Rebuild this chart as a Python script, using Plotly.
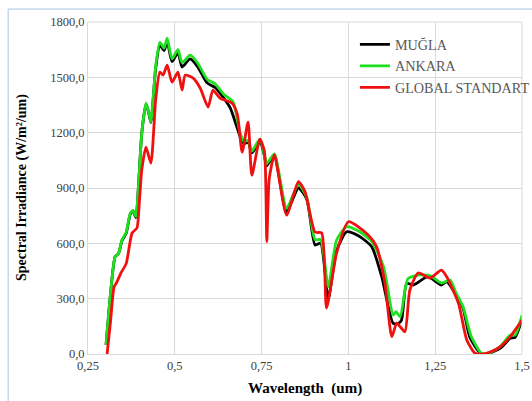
import plotly.graph_objects as go

# ---- data ----
mugla_x = [0.302, 0.315, 0.328, 0.338, 0.348, 0.360, 0.372, 0.380, 0.388, 0.395, 0.405, 0.417, 0.424, 0.431,
           0.445, 0.457, 0.469, 0.478, 0.492, 0.509, 0.521, 0.544, 0.565, 0.593, 0.616, 0.640, 0.660, 0.688,
           0.700, 0.711, 0.722, 0.745, 0.758, 0.764, 0.772, 0.787, 0.822, 0.856, 0.880, 0.904, 0.920, 0.942,
           0.966, 0.995, 1.030, 1.067, 1.096, 1.129, 1.144, 1.153, 1.168, 1.187, 1.229, 1.268, 1.283, 1.310,
           1.330, 1.350, 1.380, 1.400, 1.440, 1.466, 1.480, 1.500]
mugla_y = [50, 330, 526, 545, 615, 655, 760, 775, 740, 900, 1200, 1355, 1315, 1255,
           1550, 1675, 1645, 1695, 1585, 1635, 1556, 1600, 1560, 1470, 1445, 1390, 1333, 1180,
           1140, 1150, 1090, 1150, 1075, 1020, 1040, 1070, 770, 900, 840, 591, 601, 300,
           560, 663, 640, 582, 419, 166, 166, 184, 383, 374, 419, 374, 392, 320,
           250, 90, 5, 0, 35, 85, 90, 190]

ankara_x = [0.302, 0.315, 0.328, 0.338, 0.348, 0.360, 0.372, 0.380, 0.388, 0.395, 0.405, 0.417, 0.424, 0.431,
            0.445, 0.457, 0.469, 0.478, 0.492, 0.509, 0.521, 0.544, 0.565, 0.593, 0.616, 0.640, 0.668, 0.688,
            0.700, 0.711, 0.722, 0.745, 0.758, 0.764, 0.772, 0.787, 0.822, 0.856, 0.880, 0.904, 0.920, 0.942,
            0.966, 0.995, 1.030, 1.067, 1.101, 1.129, 1.137, 1.149, 1.163, 1.172, 1.201, 1.235, 1.268, 1.293,
            1.310, 1.330, 1.354, 1.383, 1.400, 1.437, 1.466, 1.480, 1.500]
ankara_y = [50, 330, 526, 545, 620, 660, 765, 778, 745, 900, 1200, 1360, 1320, 1258,
            1560, 1690, 1658, 1712, 1600, 1650, 1580, 1620, 1580, 1490, 1465, 1410, 1366, 1198,
            1150, 1160, 1100, 1165, 1080, 1030, 1050, 1085, 790, 920, 850, 620, 620, 365,
            618, 690, 665, 610, 473, 211, 229, 202, 347, 410, 428, 425, 385, 401,
            330, 257, 94, 4, 0, 40, 103, 103, 210]

global_x = [0.305, 0.315, 0.325, 0.333, 0.345, 0.360, 0.377, 0.391, 0.397, 0.405, 0.417, 0.431, 0.445,
            0.457, 0.466, 0.478, 0.492, 0.509, 0.521, 0.530, 0.553, 0.573, 0.596, 0.610, 0.630, 0.665,
            0.680, 0.694, 0.711, 0.722, 0.745, 0.758, 0.765, 0.772, 0.787, 0.822, 0.856, 0.875, 0.904,
            0.923, 0.937, 0.966, 1.000, 1.057, 1.081, 1.105, 1.125, 1.139, 1.149, 1.163, 1.177, 1.201,
            1.235, 1.268, 1.283, 1.317, 1.341, 1.365, 1.390, 1.430, 1.466, 1.500]
global_y = [0, 180, 363, 390, 440, 490, 656, 683, 800, 1000, 1122, 1035, 1380,
            1528, 1512, 1566, 1474, 1528, 1431, 1512, 1496, 1442, 1339, 1431, 1388, 1360,
            1300, 1095, 1257, 970, 1165, 1100, 609, 950, 1079, 753, 934, 880, 661,
            656, 249, 547, 717, 645, 582, 385, 94, 168, 148, 121, 347, 439,
            412, 455, 419, 275, 76, 4, 0, 30, 94, 184]

y_ticks = [0, 300, 600, 900, 1200, 1500, 1800]
y_labels = ["0,0", "300,0", "600,0", "900,0", "1200,0", "1500,0", "1800,0"]
x_ticks = [0.25, 0.5, 0.75, 1.0, 1.25, 1.5]
x_labels = ["0,25", "0,5", "0,75", "1", "1,25", "1,5"]

serif = "Liberation Serif"

fig = go.Figure()
fig.add_trace(go.Scatter(x=mugla_x, y=mugla_y, mode="lines", name="MUĞLA",
                         line=dict(color="#000000", width=2.8, shape="spline", smoothing=0.6)))
fig.add_trace(go.Scatter(x=ankara_x, y=ankara_y, mode="lines", name="ANKARA",
                         line=dict(color="#1fe01f", width=2.8, shape="spline", smoothing=0.6)))
fig.add_trace(go.Scatter(x=global_x, y=global_y, mode="lines", name="GLOBAL STANDART",
                         line=dict(color="#f01010", width=2.8, shape="spline", smoothing=0.6)))

fig.update_layout(
    width=532, height=401,
    margin=dict(l=88, r=10, t=22, b=47, autoexpand=False),
    paper_bgcolor="white", plot_bgcolor="white",
    font=dict(family=serif, size=12, color="#404040"),
    showlegend=True,
    legend=dict(x=0.615, y=0.98, xanchor="left", yanchor="top",
                bgcolor="rgba(0,0,0,0)", font=dict(family=serif, size=14.2, color="#595959"),
                tracegroupgap=0, itemwidth=30),
    xaxis=dict(range=[0.25, 1.5], tickvals=x_ticks, ticktext=x_labels,
               showgrid=True, gridcolor="#d9d9d9", gridwidth=1,
               showline=True, linecolor="#d9d9d9", zeroline=False, ticks="",
               tickfont=dict(family=serif, size=12.5, color="#404040")),
    yaxis=dict(range=[0, 1800], tickvals=y_ticks, ticktext=y_labels,
               showgrid=True, gridcolor="#d9d9d9", gridwidth=1,
               showline=True, linecolor="#d9d9d9", zeroline=False, ticks="",
               tickfont=dict(family=serif, size=12.5, color="#404040")),
    annotations=[
        dict(text="<b>Wavelength  (um)</b>", xref="paper", yref="paper", x=0.5, y=-0.105,
             showarrow=False, xanchor="center", yanchor="middle",
             font=dict(family=serif, size=15, color="#000000")),
        dict(text="<b>Spectral Irradiance (W/m²/um)</b>", xref="paper", yref="paper", x=-0.152, y=0.5,
             showarrow=False, xanchor="center", yanchor="middle", textangle=-90,
             font=dict(family=serif, size=14, color="#000000")),
    ],
    shapes=[
        dict(type="rect", xref="paper", yref="paper", x0=-0.184, x1=1.2, y0=-0.3, y1=1.039,
             line=dict(color="#a9c4e6", width=1), layer="below"),
        dict(type="line", xref="paper", yref="paper", x0=1, x1=1, y0=0, y1=1,
             line=dict(color="#d9d9d9", width=1)),
        dict(type="line", xref="paper", yref="paper", x0=0, x1=1, y0=1, y1=1,
             line=dict(color="#d9d9d9", width=1)),
    ],
)

fig.write_html("out.html")
